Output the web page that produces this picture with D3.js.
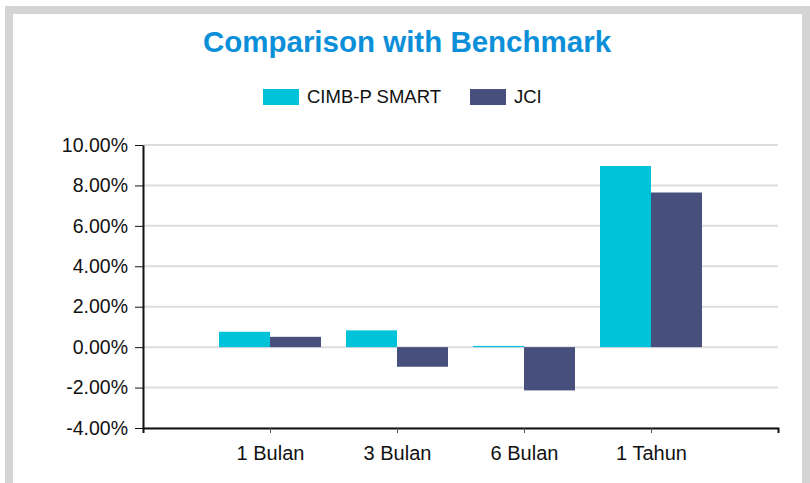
<!DOCTYPE html>
<html>
<head>
<meta charset="utf-8">
<script src="https://cdn.jsdelivr.net/npm/d3@7"></script>
<style>
  html, body { margin: 0; padding: 0; background: #fff; }
  svg { display: block; font-family: "Liberation Sans", Arial, sans-serif; }
</style>
</head>
<body>
<div id="chart"></div>
<script>
(function() {
  'use strict';

  // Data
  var categories = ['1 Bulan', '3 Bulan', '6 Bulan', '1 Tahun'];
  var seriesNames = ['CIMB-P SMART', 'JCI'];
  var fundValues = [0.76, 0.83, 0.06, 8.96];
  var jciValues = [0.51, -0.97, -2.14, 7.65];
  var yTicks = [-4, -2, 0, 2, 4, 6, 8, 10];

  var colors = { 'CIMB-P SMART': '#00c3d9', 'JCI': '#474f7c' };

  var width = 810, height = 483;
  var plot = { left: 143, right: 778, top: 145, bottom: 428 };

  var svg = d3.select('#chart')
    .append('svg')
    .attr('width', width)
    .attr('height', height);

  // Grey frame
  svg.append('rect')
    .attr('x', 9).attr('y', 10)
    .attr('width', 797).attr('height', 520)
    .attr('fill', '#fff')
    .attr('stroke', '#d4d4d4')
    .attr('stroke-width', 8);

  // Title
  svg.append('text')
    .attr('x', 407).attr('y', 52)
    .attr('text-anchor', 'middle')
    .attr('fill', '#0c8fd9')
    .attr('font-size', '29.5px')
    .attr('font-weight', 'bold')
    .text('Comparison with Benchmark');

  // Legend
  var legendX = [263, 470];
  var legend = svg.selectAll('.legend')
    .data(seriesNames)
    .enter().append('g')
    .attr('class', 'legend')
    .attr('transform', function(d, i) { return 'translate(' + legendX[i] + ',89)'; });

  legend.append('rect')
    .attr('width', 36).attr('height', 16)
    .attr('fill', function(d) { return colors[d]; });

  legend.append('text')
    .attr('x', 44).attr('y', 13.5)
    .attr('font-size', '18.5px')
    .attr('fill', '#111')
    .text(function(d) { return d; });

  // Scales
  var x = d3.scalePoint()
    .domain(categories)
    .range([plot.left, plot.right])
    .padding(1);

  var inner = d3.scaleBand()
    .domain(seriesNames)
    .range([-51, 51]);

  var y = d3.scaleLinear()
    .domain([-4, 10])
    .range([plot.bottom, plot.top]);

  // Gridlines
  svg.append('g')
    .selectAll('line')
    .data(yTicks)
    .enter().append('line')
    .attr('x1', plot.left).attr('x2', plot.right)
    .attr('y1', function(d) { return y(d); })
    .attr('y2', function(d) { return y(d); })
    .attr('stroke', '#dddddd')
    .attr('stroke-width', 2);

  // Bars
  var rows = categories.map(function(c, i) {
    return { cat: c, values: [
      { name: seriesNames[0], v: fundValues[i] },
      { name: seriesNames[1], v: jciValues[i] }
    ] };
  });

  var groups = svg.append('g')
    .selectAll('g')
    .data(rows)
    .enter().append('g')
    .attr('transform', function(d) { return 'translate(' + x(d.cat) + ',0)'; });

  groups.selectAll('rect')
    .data(function(d) { return d.values; })
    .enter().append('rect')
    .attr('x', function(d) { return inner(d.name); })
    .attr('width', inner.bandwidth())
    .attr('y', function(d) { return y(Math.max(0, d.v)); })
    .attr('height', function(d) { return Math.abs(y(d.v) - y(0)); })
    .attr('fill', function(d) { return colors[d.name]; });

  // Y axis (plain hyphen for negatives, as in the reference)
  var yAxis = svg.append('g')
    .attr('transform', 'translate(' + plot.left + ',0)')
    .call(d3.axisLeft(y)
      .tickValues(yTicks)
      .tickSizeInner(8)
      .tickSizeOuter(0)
      .tickPadding(7)
      .tickFormat(function(d) { return d.toFixed(2) + '%'; }));

  yAxis.select('.domain').attr('stroke', '#111').attr('stroke-width', 2);
  yAxis.selectAll('.tick line').attr('stroke', '#111').attr('stroke-width', 1);
  yAxis.selectAll('.tick text')
    .attr('font-size', '19.5px')
    .attr('fill', '#111')
    .attr('font-family', '"Liberation Sans", Arial, sans-serif');

  // X axis
  var xAxis = svg.append('g')
    .attr('transform', 'translate(0,' + plot.bottom + ')')
    .call(d3.axisBottom(x)
      .tickSize(5)
      .tickPadding(13));

  xAxis.select('.domain').attr('stroke', '#111').attr('stroke-width', 2);
  xAxis.selectAll('.tick line').attr('stroke', '#555').attr('stroke-width', 1);
  xAxis.selectAll('.tick text')
    .attr('font-size', '20px')
    .attr('fill', '#111')
    .attr('font-family', '"Liberation Sans", Arial, sans-serif');
})();
</script>
</body>
</html>
